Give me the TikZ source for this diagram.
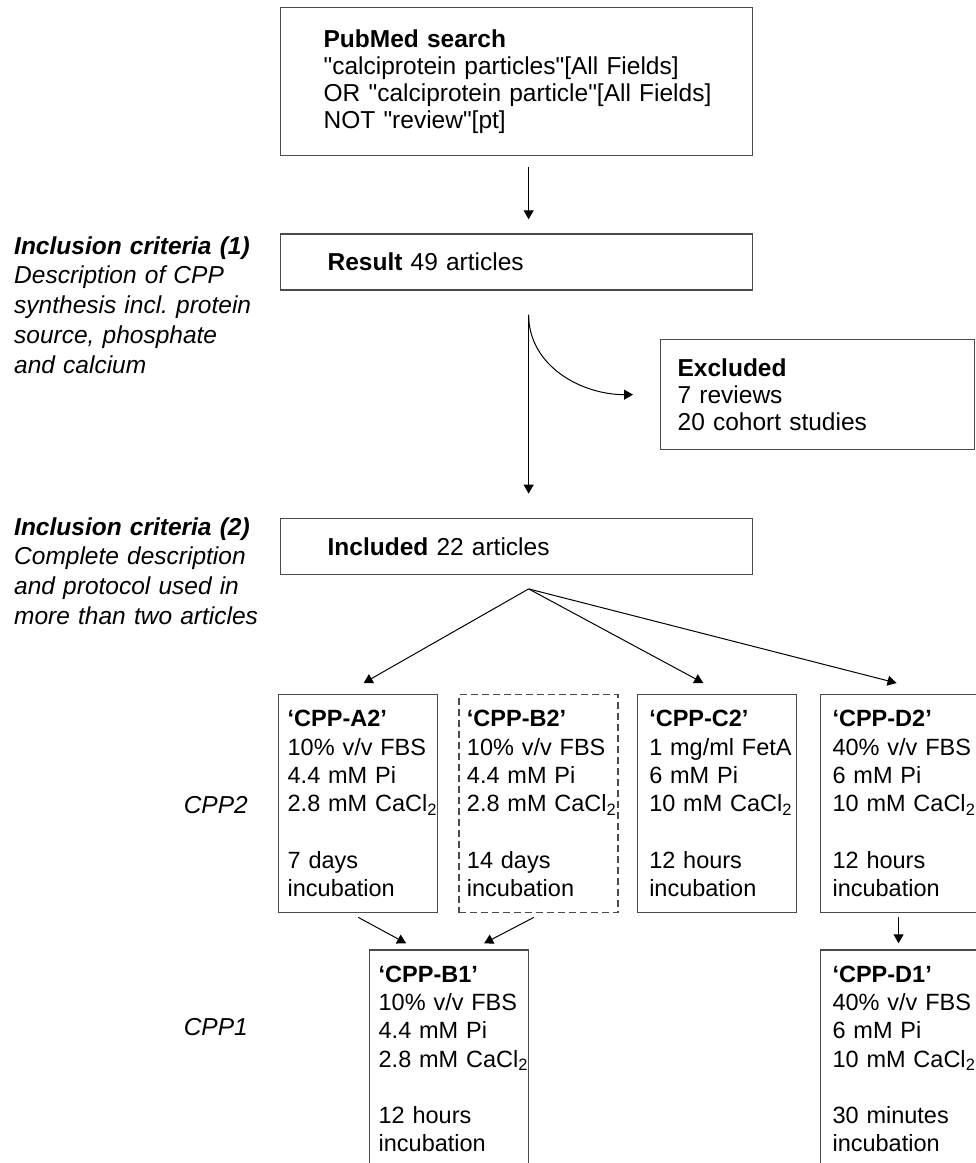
\documentclass[tikz,border=0pt]{standalone}
\usepackage{fontspec}
\setmainfont{Liberation Sans}
\usepackage{tikz}
\usetikzlibrary{arrows.meta,positioning,calc}
\definecolor{framegray}{HTML}{4A4A4A}
\frenchspacing
\newcommand{\boxfont}{\fontsize{24.5bp}{27.3bp}\selectfont}
\newcommand{\cppfont}{\fontsize{23.5bp}{28.3bp}\selectfont}
\newcommand{\notefont}{\fontsize{24.5bp}{29.8bp}\selectfont\itshape}
\newcommand{\dq}{\textquotedbl}
\tikzset{
  flowbox/.style={
    rectangle, draw=framegray, line width=1.3bp,
    inner xsep=0pt, inner ysep=0pt, text width=472bp,
    font=\boxfont, align=left,
    execute at begin node={\leftskip=#1}
  },
  flowbox/.default=47bp,
  cppbox/.style={
    rectangle, draw=framegray, line width=1.3bp,
    inner xsep=0pt, inner ysep=0pt, text width=159bp,
    minimum height=218bp, font=\cppfont, align=left,
    execute at begin node={\leftskip=#1}
  },
  cppbox/.default=9bp,
  notetext/.style={
    inner sep=0pt, text width=#1, align=left,
    font=\notefont, anchor=base west
  },
  notetext/.default=262bp,
  flowarrow/.style={
    -{Triangle[length=9bp, width=10bp]}, line width=1bp, color=#1
  },
  flowarrow/.default=black,
}

\begin{document}
\begin{tikzpicture}[x=1bp, y=1bp]
  \useasboundingbox (0,0) rectangle (976,-1163);
  \clip (0,0) rectangle (976,-1163);
  % search and screening
  \node[flowbox=43bp, minimum height=148bp, anchor=north west] (search) at (280,-7) {%
    \textbf{PubMed search}\\
    \dq calciprotein particles\dq[All Fields]\\
    OR \dq calciprotein particle\dq[All Fields]\\
    NOT \dq review\dq[pt]};
  \node[flowbox, minimum height=56bp, anchor=north west] at ([yshift=-77bp]search.south west) (result) {\textbf{Result} 49 articles};
  \node[flowbox=17bp, text width=314bp, minimum height=110bp, anchor=north west] (excluded) at (660,-339) {%
    \textbf{Excluded}\\
    7 reviews\\
    20 cohort studies};
  \node[flowbox, minimum height=56bp, anchor=north west] at ([yshift=-227bp]result.south west) (included) {\textbf{Included} 22 articles};
  \coordinate (split) at ([xshift=12bp, yshift=-24bp]result.south);
  \coordinate (fan) at ([yshift=-14bp]included.south -| split);
  \draw[flowarrow, shorten <=11bp, shorten >=14bp] (search.south -| split) -- (result.north -| split);
  \draw[flowarrow, shorten >=24bp] (split) -- (included.north -| split);
  \draw[flowarrow] (split) to[out=-90, in=180] ([xshift=-27bp]excluded.west);
  % criteria
  \node[notetext] (crit1) at (14,-254) {%
    \textbf{Inclusion criteria (1)}\\
    Description of CPP\\
    synthesis incl. protein\\
    source, phosphate\\
    and calcium};
  \node[notetext] (crit2) at (14,-535) {%
    \textbf{Inclusion criteria (2)}\\
    Complete description\\
    and protocol used in\\
    more than two articles};
  % CPP2 protocols
  \node[cppbox, anchor=north west] (a2) at (278,-694) {%
    \textbf{‘CPP-A2’}\\
    10\% v/v FBS\\
    4.4 mM Pi\\
    2.8 mM CaCl\textsubscript{2}\\[\baselineskip]
    7 days\\
    incubation};
  \node[cppbox=8bp, dash pattern=on 7bp off 4bp, anchor=north west] at ([xshift=20bp]a2.north east) (b2) {%
    \textbf{‘CPP-B2’}\\
    10\% v/v FBS\\
    4.4 mM Pi\\
    2.8 mM CaCl\textsubscript{2}\\[\baselineskip]
    14 days\\
    incubation};
  \node[cppbox=12bp, anchor=north west] at ([xshift=18bp]b2.north east) (c2) {%
    \textbf{‘CPP-C2’}\\
    1 mg/ml FetA\\
    6 mM Pi\\
    10 mM CaCl\textsubscript{2}\\[\baselineskip]
    12 hours\\
    incubation};
  \node[cppbox=12bp, anchor=north west] at ([xshift=23bp]c2.north east) (d2) {%
    \textbf{‘CPP-D2’}\\
    40\% v/v FBS\\
    6 mM Pi\\
    10 mM CaCl\textsubscript{2}\\[\baselineskip]
    12 hours\\
    incubation};
  % CPP1 protocols
  \node[cppbox, anchor=north west] at ([xshift=91bp, yshift=-36bp]a2.south west) (b1) {%
    \textbf{‘CPP-B1’}\\
    10\% v/v FBS\\
    4.4 mM Pi\\
    2.8 mM CaCl\textsubscript{2}\\[\baselineskip]
    12 hours\\
    incubation};
  \node[cppbox=12bp, anchor=north west] at ([yshift=-36bp]d2.south west) (d1) {%
    \textbf{‘CPP-D1’}\\
    40\% v/v FBS\\
    6 mM Pi\\
    10 mM CaCl\textsubscript{2}\\[\baselineskip]
    30 minutes\\
    incubation};
  \node[font=\notefont, inner sep=0pt, anchor=base east] (cpp2lbl) at (248,-813) {CPP2};
  \node[font=\notefont, inner sep=0pt, anchor=base east] (cpp1lbl) at (248,-1035) {CPP1};
  \draw[flowarrow] (fan) -- ([xshift=5.5bp, yshift=11bp]a2.north);
  \draw[flowarrow] (fan) -- ([xshift=-13.5bp, yshift=11bp]c2.north);
  \draw[flowarrow] (fan) -- ([xshift=-3.5bp, yshift=11bp]d2.north);
  \draw[flowarrow] ([yshift=-4bp]a2.south) -- ([xshift=-43bp, yshift=6bp]b1.north);
  \draw[flowarrow] ([xshift=-4.5bp, yshift=-4bp]b2.south) -- ([xshift=35bp, yshift=6bp]b1.north);
  \draw[flowarrow] ([xshift=-1.5bp, yshift=-4bp]d2.south) -- ([xshift=-1.5bp, yshift=6bp]d1.north);
\end{tikzpicture}
\end{document}
